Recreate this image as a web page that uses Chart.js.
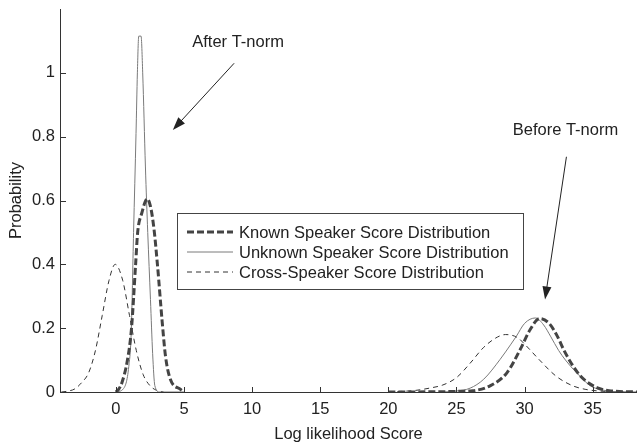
<!DOCTYPE html>
<html>
<head>
<meta charset="utf-8">
<script src="https://cdn.jsdelivr.net/npm/chart.js@4/dist/chart.umd.min.js"></script>
<style>
  html, body { margin: 0; padding: 0; background: #fff; }
  #wrap { width: 637px; height: 448px; }
</style>
</head>
<body>
<div id="wrap"><canvas id="chart"></canvas></div>
<script>
// values (after T-norm part, then before T-norm part)
const knownAfterX  = [0, 0.2, 0.45, 0.85, 1.15, 1.45, 1.6, 1.9, 2.3, 2.55, 2.8, 3.05, 3.4, 3.65, 4.0, 4.75, 5.0];
const knownAfterY  = [0, 0.008, 0.03, 0.1, 0.2, 0.4, 0.5, 0.56, 0.605, 0.58, 0.51, 0.4, 0.22, 0.11, 0.04, 0.008, 0];
const knownBeforeX = [20, 24, 25, 26.2, 27.5, 28.7, 29.7, 30.4, 31.1, 31.8, 32.4, 32.9, 33.5, 34.1, 34.7, 35.3, 36.2, 38.5];
const knownBeforeY = [0, 0.001, 0.002, 0.004, 0.02, 0.06, 0.135, 0.195, 0.23, 0.215, 0.175, 0.13, 0.085, 0.05, 0.028, 0.014, 0.004, 0];

const unknownAfterX  = [0, 0.55, 0.95, 1.13, 1.3, 1.48, 1.58, 1.68, 1.85, 1.97, 2.17, 2.34, 2.54, 2.7, 2.86, 3.2, 5.0];
const unknownAfterY  = [0, 0.01, 0.08, 0.19, 0.5, 0.81, 1.0, 1.115, 1.115, 1.0, 0.705, 0.5, 0.29, 0.12, 0.02, 0, 0];
const unknownBeforeX = [24, 25, 26, 27, 28.2, 29, 29.4, 30, 30.8, 31.4, 31.9, 32.5, 33, 33.6, 34.1, 34.8, 36, 37, 38.5];
const unknownBeforeY = [0, 0.003, 0.012, 0.04, 0.102, 0.15, 0.175, 0.215, 0.232, 0.21, 0.175, 0.13, 0.1, 0.07, 0.048, 0.02, 0.004, 0.001, 0];

const crossAfterX  = [-4, -3.5, -3, -2.5, -2, -1.5, -1, -0.5, -0.05, 0.5, 1, 1.5, 2, 2.5, 3, 3.5];
const crossAfterY  = [0, 0.003, 0.01, 0.03, 0.06, 0.13, 0.24, 0.35, 0.4, 0.35, 0.24, 0.13, 0.055, 0.02, 0.005, 0];
const crossBeforeX = [20, 21, 22, 23, 24, 25, 26, 27, 28, 28.6, 29.5, 30, 31.1, 32.3, 33.5, 34.5, 35.5, 36.5, 37.5];
const crossBeforeY = [0, 0.002, 0.005, 0.012, 0.022, 0.045, 0.09, 0.14, 0.172, 0.18, 0.17, 0.15, 0.1, 0.05, 0.02, 0.008, 0.003, 0.001, 0];

const seriesNames = [
  'Known Speaker Score Distribution',
  'Unknown Speaker Score Distribution',
  'Cross-Speaker Score Distribution'
];
const xTicks = [0, 5, 10, 15, 20, 25, 30, 35];
const yTicks = [0, 0.2, 0.4, 0.6, 0.8, 1];

const FONT = 'Liberation Sans, Arial, Helvetica, sans-serif';

function toPoints(ax, ay, bx, by) {
  const pts = ax.map((x, i) => ({ x: x, y: ay[i] }));
  pts.push({ x: 12, y: null }); // gap between the two groups
  bx.forEach((x, i) => pts.push({ x: x, y: by[i] }));
  return pts;
}

// inward tick marks, like the matlab axes
const inwardTicks = {
  id: 'inwardTicks',
  afterDatasetsDraw(chart) {
    const ctx = chart.ctx;
    const area = chart.chartArea;
    const xs = chart.scales.x, ys = chart.scales.y;
    ctx.save();
    ctx.strokeStyle = '#333';
    ctx.lineWidth = 1;
    ctx.beginPath();
    xs.ticks.forEach(t => {
      const px = Math.round(xs.getPixelForValue(t.value)) + 0.5;
      ctx.moveTo(px, area.bottom);
      ctx.lineTo(px, area.bottom - 5);
    });
    ys.ticks.forEach(t => {
      const py = Math.round(ys.getPixelForValue(t.value)) + 0.5;
      ctx.moveTo(area.left, py);
      ctx.lineTo(area.left + 6, py);
    });
    ctx.stroke();
    ctx.restore();
  }
};

// boxed legend inside the plot
const boxLegend = {
  id: 'boxLegend',
  afterDatasetsDraw(chart) {
    const ctx = chart.ctx;
    const left = 177, top = 213, w = 346, h = 76;
    ctx.save();
    ctx.fillStyle = '#fff';
    ctx.fillRect(left, top, w, h);
    ctx.strokeStyle = '#444';
    ctx.lineWidth = 1;
    ctx.strokeRect(left + 0.5, top + 0.5, w, h);
    ctx.font = '16.5px ' + FONT;
    ctx.textBaseline = 'middle';
    chart.data.datasets.forEach((ds, i) => {
      const y = top + 19 + i * 20;
      ctx.strokeStyle = ds.borderColor;
      ctx.lineWidth = ds.borderWidth;
      ctx.setLineDash(ds.borderDash || []);
      ctx.beginPath();
      ctx.moveTo(187, y);
      ctx.lineTo(233, y);
      ctx.stroke();
      ctx.setLineDash([]);
      ctx.fillStyle = '#222';
      ctx.fillText(ds.label, 239, y + 1);
    });
    ctx.restore();
  }
};

// text labels with arrows, placed in data units
const notes = [
  { text: 'After T-norm', tx: 8.97, ty: 1.096, x0: 8.68, y0: 1.03, x1: 4.18, y1: 0.821 },
  { text: 'Before T-norm', tx: 33.0, ty: 0.821, x0: 33.07, y0: 0.737, x1: 31.5, y1: 0.29 }
];

const arrowNotes = {
  id: 'arrowNotes',
  afterDraw(chart) {
    const ctx = chart.ctx;
    const xs = chart.scales.x, ys = chart.scales.y;
    ctx.save();
    ctx.font = '16.5px ' + FONT;
    ctx.fillStyle = '#222';
    ctx.strokeStyle = '#222';
    ctx.textAlign = 'center';
    ctx.textBaseline = 'middle';
    notes.forEach(n => {
      ctx.fillText(n.text, xs.getPixelForValue(n.tx), ys.getPixelForValue(n.ty));
      const ax = xs.getPixelForValue(n.x0), ay = ys.getPixelForValue(n.y0);
      const bx = xs.getPixelForValue(n.x1), by = ys.getPixelForValue(n.y1);
      const ang = Math.atan2(by - ay, bx - ax);
      const len = 13, half = 4.5;
      ctx.lineWidth = 1;
      ctx.beginPath();
      ctx.moveTo(ax, ay);
      ctx.lineTo(bx - Math.cos(ang) * len * 0.8, by - Math.sin(ang) * len * 0.8);
      ctx.stroke();
      ctx.beginPath();
      ctx.moveTo(bx, by);
      ctx.lineTo(bx - Math.cos(ang) * len - Math.sin(ang) * half, by - Math.sin(ang) * len + Math.cos(ang) * half);
      ctx.lineTo(bx - Math.cos(ang) * len + Math.sin(ang) * half, by - Math.sin(ang) * len - Math.cos(ang) * half);
      ctx.closePath();
      ctx.fill();
    });
    ctx.restore();
  }
};

const data = {
  datasets: [
    {
      label: seriesNames[0],
      data: toPoints(knownAfterX, knownAfterY, knownBeforeX, knownBeforeY),
      borderColor: '#444',
      borderWidth: 3,
      borderDash: [7, 3]
    },
    {
      label: seriesNames[1],
      data: toPoints(unknownAfterX, unknownAfterY, unknownBeforeX, unknownBeforeY),
      borderColor: '#7a7a7a',
      borderWidth: 1
    },
    {
      label: seriesNames[2],
      data: toPoints(crossAfterX, crossAfterY, crossBeforeX, crossBeforeY),
      borderColor: '#333',
      borderWidth: 1,
      borderDash: [5, 4]
    }
  ]
};

const config = {
  type: 'line',
  data: data,
  options: {
    responsive: true,
    maintainAspectRatio: false,
    animation: false,
    spanGaps: false,
    layout: { padding: { top: 9, right: 0, left: 0, bottom: 0 } },
    elements: {
      point: { radius: 0 },
      line: { tension: 0.4, cubicInterpolationMode: 'monotone', fill: false }
    },
    plugins: {
      legend: { display: false },
      tooltip: { enabled: false }
    },
    scales: {
      x: {
        type: 'linear',
        min: -4.1,
        max: 38.25,
        afterBuildTicks: s => { s.ticks = xTicks.map(v => ({ value: v })); },
        afterFit: s => { s.height = 56; s.paddingLeft = 0; s.paddingRight = 0; },
        grid: { drawOnChartArea: false, drawTicks: false },
        border: { display: true, color: '#333', width: 1 },
        ticks: { padding: 8, color: '#222', font: { family: FONT, size: 16.5 }, maxRotation: 0 },
        title: { display: true, text: 'Log likelihood Score', color: '#222', font: { family: FONT, size: 16.5 }, padding: { top: 0, bottom: 4 } }
      },
      y: {
        type: 'linear',
        min: 0,
        max: 1.2,
        afterBuildTicks: s => { s.ticks = yTicks.map(v => ({ value: v })); },
        afterFit: s => { s.width = 60; s.paddingTop = 0; s.paddingBottom = 0; },
        grid: { drawOnChartArea: false, drawTicks: false },
        border: { display: true, color: '#333', width: 1 },
        ticks: { padding: 5, color: '#222', font: { family: FONT, size: 16.5 }, callback: v => String(v) },
        title: { display: true, text: 'Probability', color: '#222', font: { family: FONT, size: 16.5 }, padding: { top: 7, bottom: 0 } }
      }
    }
  },
  plugins: [inwardTicks, boxLegend, arrowNotes]
};

const chart = new Chart(document.getElementById('chart'), config);
</script>
</body>
</html>
